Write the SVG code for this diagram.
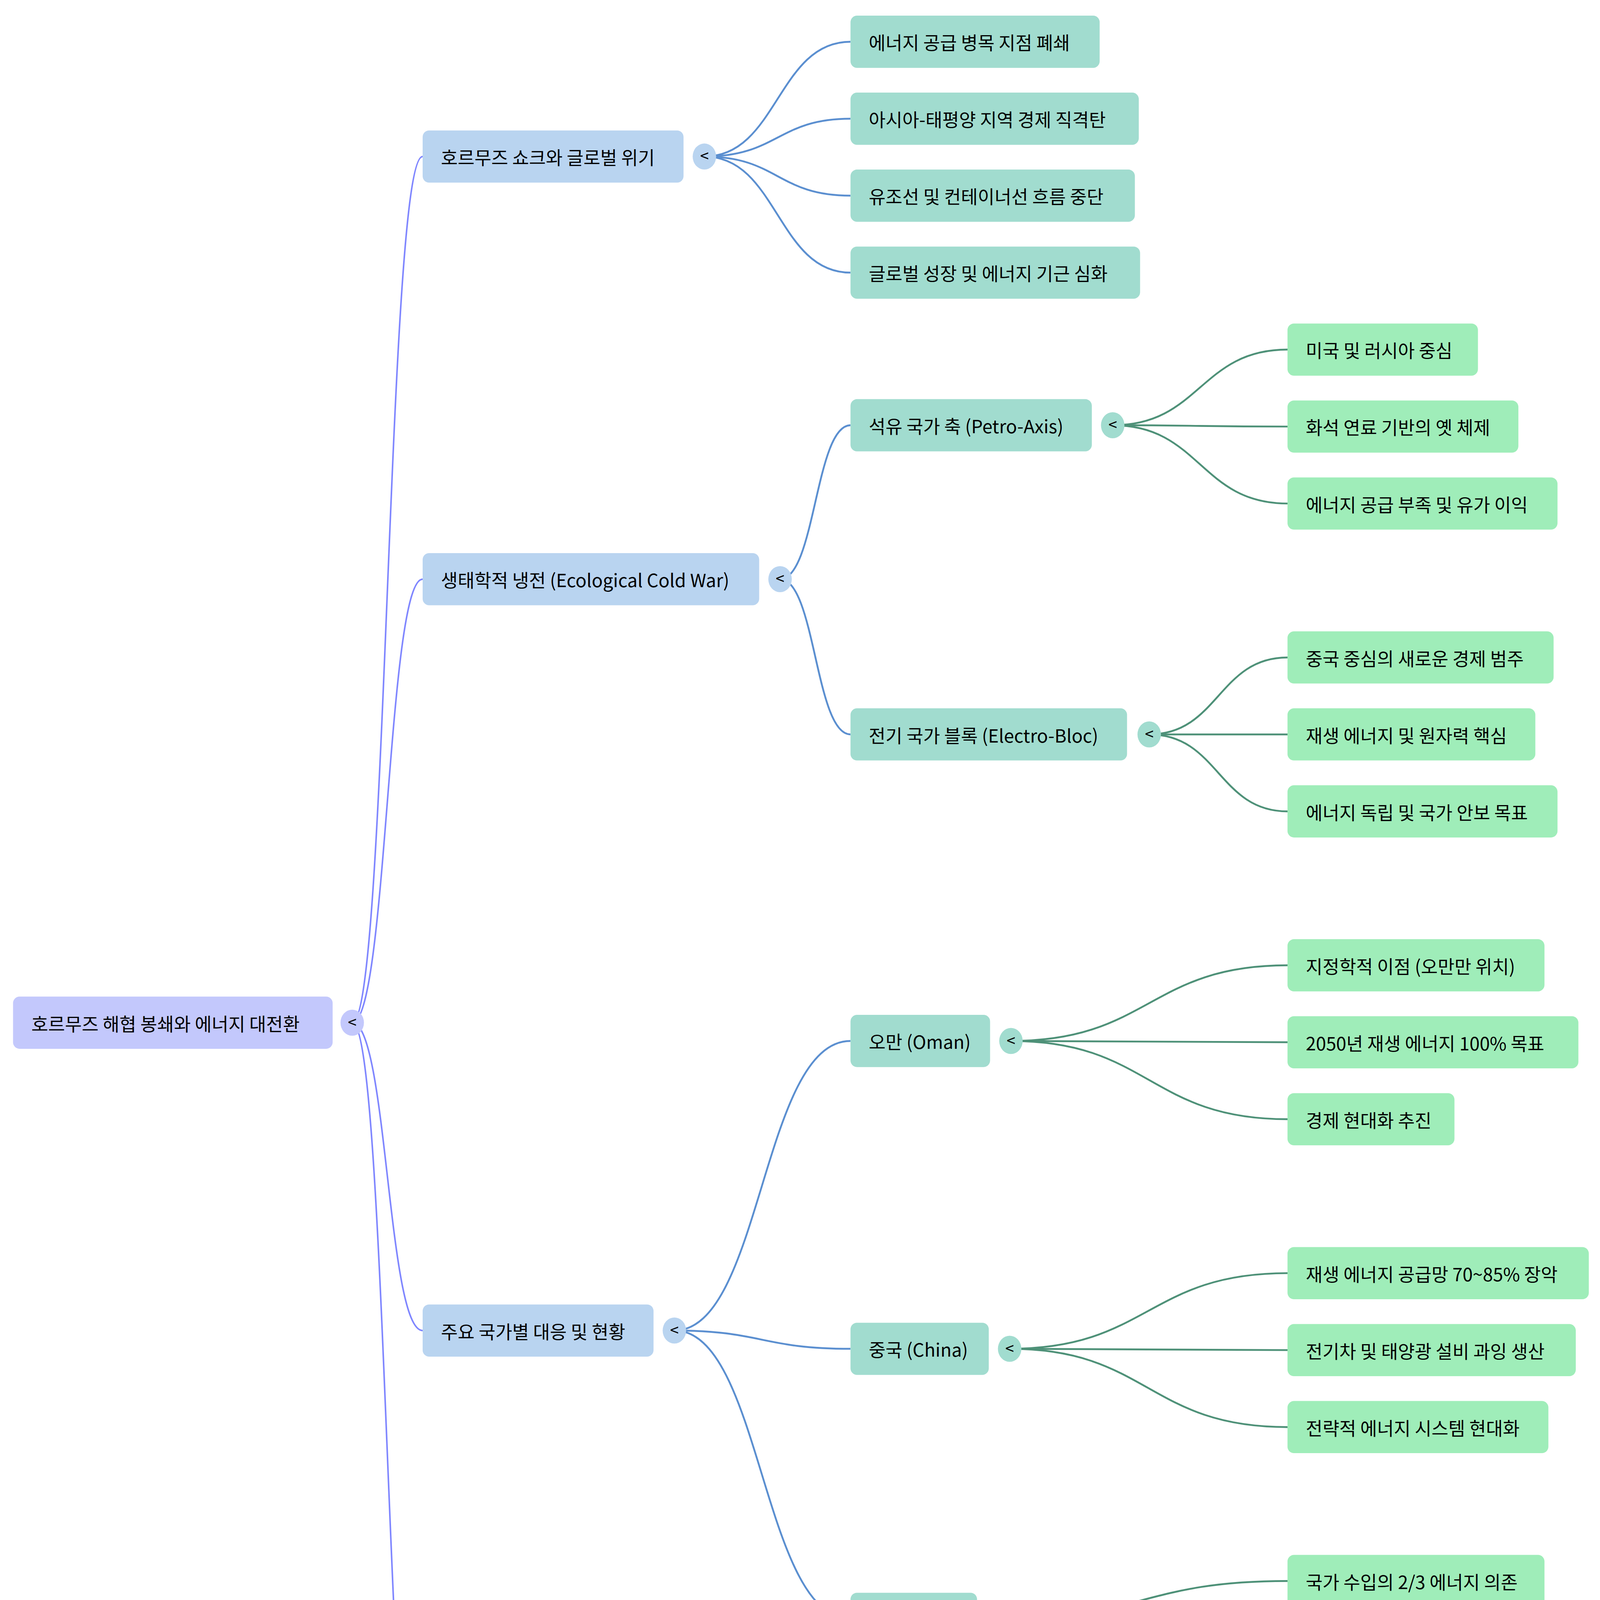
<svg xmlns="http://www.w3.org/2000/svg" width="4241" height="5236" viewBox="0 0 4241 5236">
<style>
text{font-family:"Noto Sans CJK KR","Noto Sans",sans-serif;font-size:14px;fill:#000;dominant-baseline:central}
.r{fill:#c3c8fc}.l1{fill:#b9d4f0}.l2{fill:#a1dccf}.l3{fill:#9fedb9}
.e0{fill:none;stroke:#7f86ff;stroke-width:1.2}
.e1{fill:none;stroke:#5b8fd0;stroke-width:1.4}
.e2{fill:none;stroke:#4e9178;stroke-width:1.4}
.c{font-size:12px;text-anchor:middle}
</style>
<rect width="4241" height="5236" fill="#fff"/>
<g transform="scale(3.3394)">
<g id="connectors">
<path class="e0" d="M270,784C297,784 297,120 324,120"/>
<path class="e0" d="M270,784C297,784 297,444 324,444"/>
<path class="e0" d="M270,784C297,784 297,1020 324,1020"/>
<path class="e0" d="M270,784C297,784 297,1448 324,1448"/>
<path class="e1" d="M540,120C596,120 596,32 652,32"/>
<path class="e1" d="M540,120C596,120 596,91 652,91"/>
<path class="e1" d="M540,120C596,120 596,150 652,150"/>
<path class="e1" d="M540,120C596,120 596,209 652,209"/>
<path class="e1" d="M598,444C625,444 625,326 652,326"/>
<path class="e1" d="M598,444C625,444 625,563 652,563"/>
<path class="e1" d="M517,1020C584,1020 584,798 652,798"/>
<path class="e1" d="M517,1020C584,1020 584,1034 652,1034"/>
<path class="e1" d="M517,1020C584,1020 584,1241 652,1241"/>
<path class="e1" d="M504,1448C578,1448 578,1360 652,1360"/>
<path class="e1" d="M504,1448C578,1448 578,1419 652,1419"/>
<path class="e1" d="M504,1448C578,1448 578,1478 652,1478"/>
<path class="e1" d="M504,1448C578,1448 578,1537 652,1537"/>
<path class="e2" d="M853,326C920,326 920,268 987,268"/>
<path class="e2" d="M853,326C920,326 920,327 987,327"/>
<path class="e2" d="M853,326C920,326 920,386 987,386"/>
<path class="e2" d="M881,563C934,563 934,504 987,504"/>
<path class="e2" d="M881,563C934,563 934,563 987,563"/>
<path class="e2" d="M881,563C934,563 934,622 987,622"/>
<path class="e2" d="M775,798C881,798 881,740 987,740"/>
<path class="e2" d="M775,798C881,798 881,799 987,799"/>
<path class="e2" d="M775,798C881,798 881,858 987,858"/>
<path class="e2" d="M774,1034C880,1034 880,976 987,976"/>
<path class="e2" d="M774,1034C880,1034 880,1035 987,1035"/>
<path class="e2" d="M774,1034C880,1034 880,1094 987,1094"/>
<path class="e2" d="M766,1241C876,1241 876,1212 987,1212"/>
<path class="e2" d="M766,1241C876,1241 876,1271 987,1271"/>
</g>
<g id="root"><rect class="r" x="10" y="764" width="245" height="40" rx="5"/><text x="24" y="784">호르무즈 해협 봉쇄와 에너지 대전환</text><ellipse class="r" cx="270" cy="784" rx="9" ry="10"/><text class="c" x="270" y="783">&lt;</text></g>
<g id="n1"><rect class="l1" x="324" y="100" width="200" height="40" rx="5"/><text x="338" y="120">호르무즈 쇼크와 글로벌 위기</text><ellipse class="l1" cx="540" cy="120" rx="9" ry="10"/><text class="c" x="540" y="119">&lt;</text></g>
<g id="n2"><rect class="l1" x="324" y="424" width="258" height="40" rx="5"/><text x="338" y="444">생태학적 냉전 (Ecological Cold War)</text><ellipse class="l1" cx="598" cy="444" rx="9" ry="10"/><text class="c" x="598" y="443">&lt;</text></g>
<g id="n3"><rect class="l1" x="324" y="1000" width="177" height="40" rx="5"/><text x="338" y="1020">주요 국가별 대응 및 현황</text><ellipse class="l1" cx="517" cy="1020" rx="9" ry="10"/><text class="c" x="517" y="1019">&lt;</text></g>
<g id="n4"><rect class="l1" x="324" y="1428" width="164" height="40" rx="5"/><text x="338" y="1448">갈등 요소 및 미래 전망</text><ellipse class="l1" cx="504" cy="1448" rx="9" ry="10"/><text class="c" x="504" y="1447">&lt;</text></g>
<g id="a1"><rect class="l2" x="652" y="12" width="191" height="40" rx="5"/><text x="666" y="32">에너지 공급 병목 지점 폐쇄</text></g>
<g id="a2"><rect class="l2" x="652" y="71" width="221" height="40" rx="5"/><text x="666" y="91">아시아-태평양 지역 경제 직격탄</text></g>
<g id="a3"><rect class="l2" x="652" y="130" width="218" height="40" rx="5"/><text x="666" y="150">유조선 및 컨테이너선 흐름 중단</text></g>
<g id="a4"><rect class="l2" x="652" y="189" width="222" height="40" rx="5"/><text x="666" y="209">글로벌 성장 및 에너지 기근 심화</text></g>
<g id="b1"><rect class="l2" x="652" y="306" width="185" height="40" rx="5"/><text x="666" y="326">석유 국가 축 (Petro-Axis)</text><ellipse class="l2" cx="853" cy="326" rx="9" ry="10"/><text class="c" x="853" y="325">&lt;</text></g>
<g id="b2"><rect class="l2" x="652" y="543" width="212" height="40" rx="5"/><text x="666" y="563">전기 국가 블록 (Electro-Bloc)</text><ellipse class="l2" cx="881" cy="563" rx="9" ry="10"/><text class="c" x="881" y="562">&lt;</text></g>
<g id="c1"><rect class="l2" x="652" y="778" width="107" height="40" rx="5"/><text x="666" y="798">오만 (Oman)</text><ellipse class="l2" cx="775" cy="798" rx="9" ry="10"/><text class="c" x="775" y="797">&lt;</text></g>
<g id="c2"><rect class="l2" x="652" y="1014" width="106" height="40" rx="5"/><text x="666" y="1034">중국 (China)</text><ellipse class="l2" cx="774" cy="1034" rx="9" ry="10"/><text class="c" x="774" y="1033">&lt;</text></g>
<g id="c3"><rect class="l2" x="652" y="1221" width="97" height="40" rx="5"/><text x="666" y="1241">걸프 산유국</text><ellipse class="l2" cx="766" cy="1241" rx="9" ry="10"/><text class="c" x="766" y="1240">&lt;</text></g>
<g id="d1"><rect class="l2" x="652" y="1340" width="290" height="40" rx="5"/><text x="666" y="1360">추가 봉쇄 위험 (바브엘만데브, 말라카 해협)</text></g>
<g id="d2"><rect class="l2" x="652" y="1399" width="200" height="40" rx="5"/><text x="666" y="1419">자원 공급망의 정치적 도구화</text></g>
<g id="d3"><rect class="l2" x="652" y="1458" width="227" height="40" rx="5"/><text x="666" y="1478">개발도상국의 저렴한 전기화 기회</text></g>
<g id="d4"><rect class="l2" x="652" y="1517" width="217" height="40" rx="5"/><text x="666" y="1537">화석 연료 체제와 신체제의 충돌</text></g>
<g id="p1"><rect class="l3" x="987" y="248" width="146" height="40" rx="5"/><text x="1001" y="268">미국 및 러시아 중심</text></g>
<g id="p2"><rect class="l3" x="987" y="307" width="177" height="40" rx="5"/><text x="1001" y="327">화석 연료 기반의 옛 체제</text></g>
<g id="p3"><rect class="l3" x="987" y="366" width="207" height="40" rx="5"/><text x="1001" y="386">에너지 공급 부족 및 유가 이익</text></g>
<g id="e1"><rect class="l3" x="987" y="484" width="204" height="40" rx="5"/><text x="1001" y="504">중국 중심의 새로운 경제 범주</text></g>
<g id="e2"><rect class="l3" x="987" y="543" width="190" height="40" rx="5"/><text x="1001" y="563">재생 에너지 및 원자력 핵심</text></g>
<g id="e3"><rect class="l3" x="987" y="602" width="207" height="40" rx="5"/><text x="1001" y="622">에너지 독립 및 국가 안보 목표</text></g>
<g id="o1"><rect class="l3" x="987" y="720" width="197" height="40" rx="5"/><text x="1001" y="740">지정학적 이점 (오만만 위치)</text></g>
<g id="o2"><rect class="l3" x="987" y="779" width="223" height="40" rx="5"/><text x="1001" y="799">2050년 재생 에너지 100% 목표</text></g>
<g id="o3"><rect class="l3" x="987" y="838" width="128" height="40" rx="5"/><text x="1001" y="858">경제 현대화 추진</text></g>
<g id="h1"><rect class="l3" x="987" y="956" width="231" height="40" rx="5"/><text x="1001" y="976">재생 에너지 공급망 70~85% 장악</text></g>
<g id="h2"><rect class="l3" x="987" y="1015" width="221" height="40" rx="5"/><text x="1001" y="1035">전기차 및 태양광 설비 과잉 생산</text></g>
<g id="h3"><rect class="l3" x="987" y="1074" width="200" height="40" rx="5"/><text x="1001" y="1094">전략적 에너지 시스템 현대화</text></g>
<g id="g1"><rect class="l3" x="987" y="1192" width="197" height="40" rx="5"/><text x="1001" y="1212">국가 수입의 2/3 에너지 의존</text></g>
<g id="g2"><rect class="l3" x="987" y="1251" width="248" height="40" rx="5"/><text x="1001" y="1271">그린 이니셔티브 및 에너지 전략 수립</text></g>
</g>
</svg>
